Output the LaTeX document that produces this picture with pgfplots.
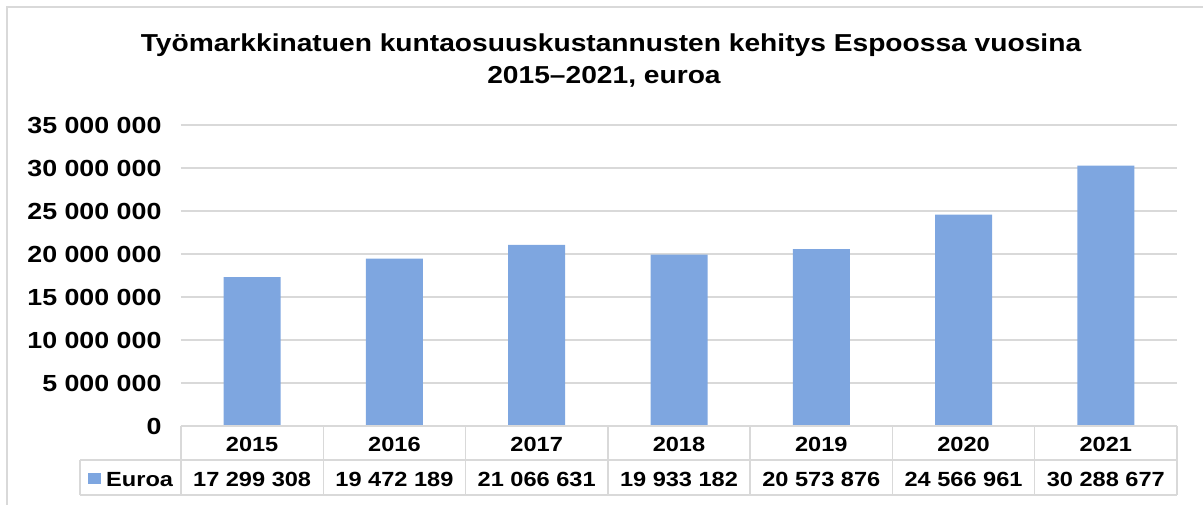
\documentclass[border=0pt]{standalone}
\usepackage{fontspec}
\setmainfont[FakeStretch=1.15]{Liberation Sans}
\usepackage{pgfplots}
\pgfplotsset{compat=1.18}
\definecolor{barblue}{RGB}{126,166,224}
\definecolor{gridgray}{RGB}{217,217,217}
\begin{document}
\begin{tikzpicture}
\path[use as bounding box] (0pt,0pt) rectangle (1203pt,504pt);
\draw[gridgray, line width=1.5pt] (7pt,-5pt) -- (7pt,497pt) -- (1210pt,497pt);
\node[font=\bfseries\fontsize{24.5}{30}\selectfont, anchor=base, inner sep=0] at (611pt,452pt) {Työmarkkinatuen kuntaosuuskustannusten kehitys Espoossa vuosina};
\node[font=\bfseries\fontsize{24.5}{30}\selectfont, anchor=base, inner sep=0] at (604pt,420pt) {2015–2021, euroa};
\begin{axis}[
  at={(181pt,78pt)}, anchor=south west,
  width=996pt, height=301pt, scale only axis,
  xmin=-0.5, xmax=6.5, ymin=0, ymax=35000000,
  ytick={0,5000000,10000000,15000000,20000000,25000000,30000000,35000000},
  scaled y ticks=false,
  ymajorgrids, grid style={gridgray, line width=1.5pt},
  axis line style={draw=none},
  major tick length=0pt,
  yticklabel style={font=\bfseries\fontsize{23.3}{28}\selectfont, xshift=-16pt,
    /pgf/number format/.cd, fixed, 1000 sep={\ }, assume math mode=true},
  xtick={0,1,2,3,4,5,6},
  xticklabels={2015,2016,2017,2018,2019,2020,2021},
  xticklabel style={font=\bfseries\fontsize{20.5}{24}\selectfont, anchor=base, yshift=-25.5pt},
  extra x ticks={0,1,2,3,4,5,6},
  extra x tick labels={17 299 308,19 472 189,21 066 631,19 933 182,20 573 876,24 566 961,30 288 677},
  extra x tick style={xticklabel style={yshift=-34.5pt}},
]
\addplot[ybar, bar width=57pt, fill=barblue, draw=none] coordinates {
  (0,17299308) (1,19472189) (2,21066631) (3,19933182) (4,20573876) (5,24566961) (6,30288677)
};
\end{axis}
\draw[gridgray, line width=1.5pt] (181pt,78pt) -- (1177pt,78pt);
\draw[gridgray, line width=1.5pt] (80pt,44pt) -- (1177pt,44pt);
\draw[gridgray, line width=1.5pt] (80pt,9pt) -- (1177pt,9pt);
\draw[gridgray, line width=1.5pt] (80pt,44pt) -- (80pt,9pt);
\foreach \xx in {181,323.286,465.571,607.857,750.143,892.429,1034.714,1177} {
  \draw[gridgray, line width=1.5pt] (\xx pt,78pt) -- (\xx pt,9pt);
}
\fill[barblue] (88pt,20pt) rectangle (100.5pt,31.5pt);
\node[font=\bfseries\fontsize{20.5}{24}\selectfont, anchor=base west, inner sep=0] at (106pt,18pt) {Euroa};
\end{tikzpicture}
\end{document}
